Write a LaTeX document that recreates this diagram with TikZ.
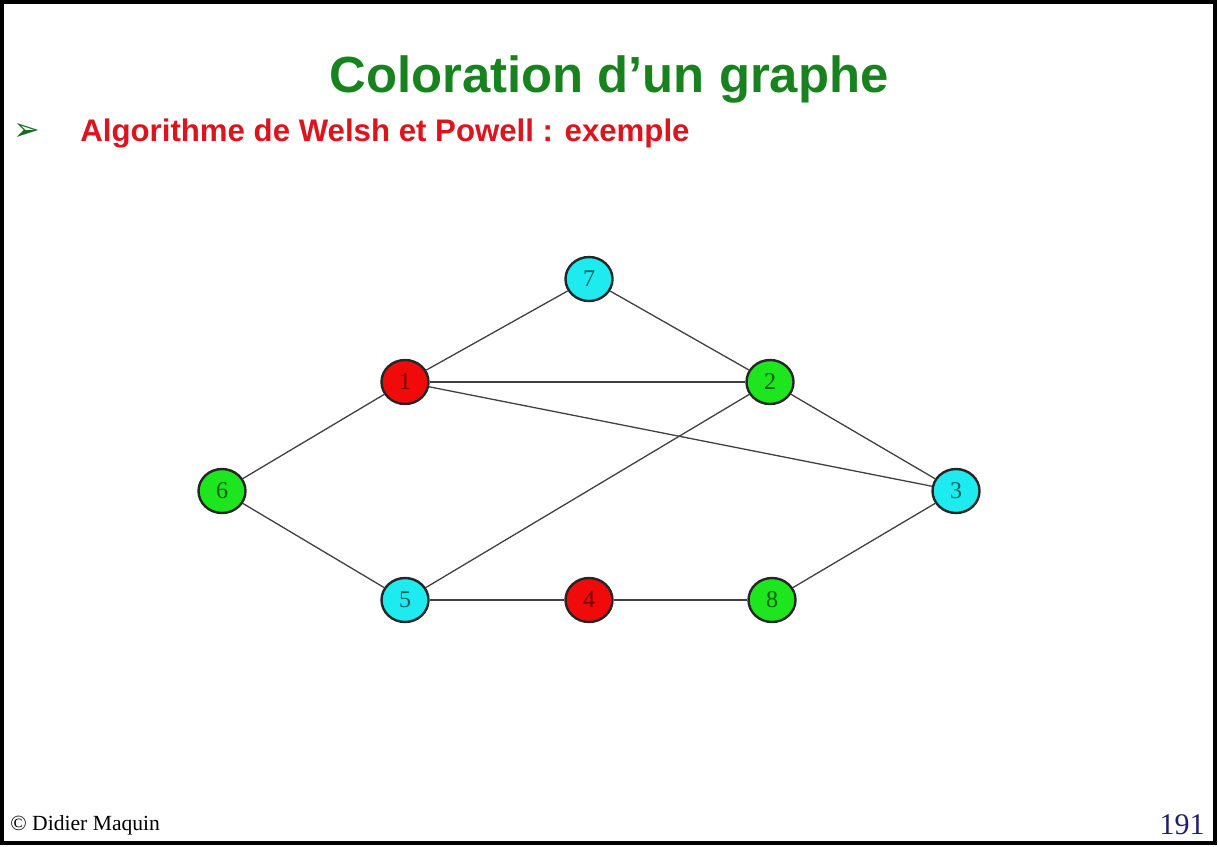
\documentclass[tikz,border=0pt]{standalone}
\usepackage{fontspec}
\setmainfont{Liberation Serif}
\newfontfamily\headfont{Liberation Sans}
\newfontfamily\symbfont{DejaVu Sans}
\definecolor{titlegreen}{RGB}{24,130,30}
\definecolor{subred}{RGB}{220,20,30}
\definecolor{bulletgreen}{RGB}{20,110,30}
\definecolor{pagenavy}{RGB}{30,30,110}
\definecolor{vred}{RGB}{240,10,10}
\definecolor{vgreen}{RGB}{30,230,30}
\definecolor{vcyan}{RGB}{30,235,240}
\tikzset{
  vertex/.style={ellipse, draw=black!85, line width=1.2pt, minimum width=23.5pt,
    minimum height=22pt, inner sep=0pt, font=\fontsize{12}{13}\selectfont},
  redv/.style={vertex, fill=vred, text=vred!45!black},
  greenv/.style={vertex, fill=vgreen, text=vgreen!40!black},
  cyanv/.style={vertex, fill=vcyan, text=vcyan!40!black},
  edge/.style={draw=black!75, line width=0.65pt}
}
\usetikzlibrary{shapes.geometric}
\begin{document}
\begin{tikzpicture}[x=0.5pt,y=-0.5pt]
\useasboundingbox (0,0) rectangle (1218,846);
\draw [line width=2pt] (2,2) rectangle (1215,843);

% heading
\draw (609,92) node [anchor=base, text=titlegreen, font=\headfont\bfseries\fontsize{25.4}{30}\selectfont] (title) {Coloration d’un graphe};
\draw (13,140) node [anchor=base west, inner sep=0pt, text=bulletgreen, font=\symbfont\fontsize{16}{18}\selectfont] (bullet) {➢};
\draw (80,141) node [anchor=base west, inner sep=0pt, text=subred, font=\headfont\bfseries\fontsize{15.6}{18}\selectfont] (subtitle) {Algorithme de Welsh et Powell : exemple};

% the graph
\draw (589,279) node [cyanv] (v7) {7};
\draw (405,382) node [redv] (v1) {1};
\draw (770,382) node [greenv] (v2) {2};
\draw (222,491) node [greenv] (v6) {6};
\draw (956,491) node [cyanv] (v3) {3};
\draw (405,600) node [cyanv] (v5) {5};
\draw (589,600) node [redv] (v4) {4};
\draw (772,600) node [greenv] (v8) {8};

\draw [edge] (v7) -- (v1);
\draw [edge] (v7) -- (v2);
\draw [edge] (v1) -- (v2);
\draw [edge] (v1) -- (v3);
\draw [edge] (v1) -- (v6);
\draw [edge] (v2) -- (v3);
\draw [edge] (v2) -- (v5);
\draw [edge] (v6) -- (v5);
\draw [edge] (v5) -- (v4);
\draw [edge] (v4) -- (v8);
\draw [edge] (v8) -- (v3);

% footer
\draw (10,830) node [anchor=base west, inner sep=0pt, font=\fontsize{10.8}{12}\selectfont] (author) {© Didier Maquin};
\draw (1205,834) node [anchor=base east, inner sep=0pt, text=pagenavy, font=\fontsize{15}{16}\selectfont] (pagenum) {191};
\end{tikzpicture}
\end{document}
